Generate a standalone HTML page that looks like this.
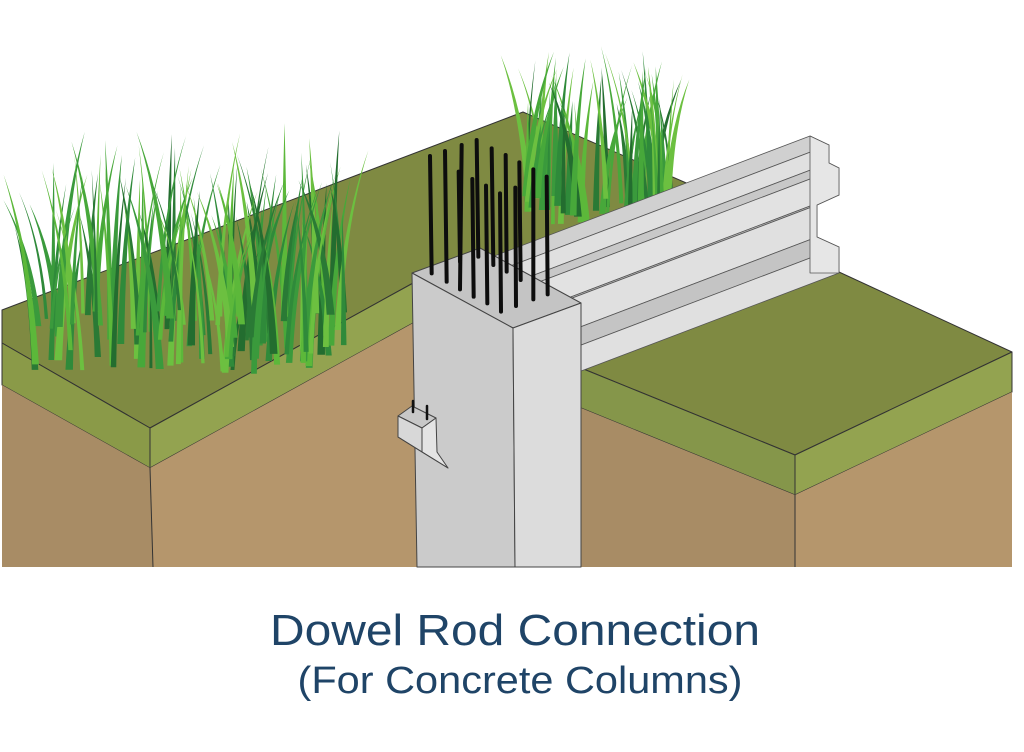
<!DOCTYPE html>
<html><head><meta charset="utf-8"><style>
html,body{margin:0;padding:0;background:#fff;width:1024px;height:752px;overflow:hidden}
svg{display:block}
</style></head><body>
<svg id="s" width="1024" height="752" viewBox="0 0 1024 752" xmlns="http://www.w3.org/2000/svg">
<g stroke="#333" stroke-width="1" stroke-linejoin="round">
<polygon points="2,310 523,112 760,215 590,330 415,282 150,428 2,343" fill="#7f8a42"/>
<polygon points="2,343 150,428 150,468 2,385" fill="#8a9a48"/>
<polygon points="150,428 415,282 415,322 150,468" fill="#93a350"/>
<polygon points="2,385 150,468 153,567 2,567" fill="#a88c65" stroke="none"/>
<polygon points="150,468 415,322 417,567 153,567" fill="#b5966c" stroke="none"/>
<line x1="150" y1="468" x2="153" y2="567"/>
<polygon points="581,368 795,455 1012,352 839,272 581,300" fill="#7f8a42"/>
<polygon points="581,368 795,455 795,495 581,408" fill="#85964a"/>
<polygon points="795,455 1012,352 1012,392 795,495" fill="#93a350"/>
<polygon points="581,408 795,495 795,567 581,567" fill="#a88c65" stroke="none"/>
<polygon points="795,495 1012,392 1012,567 795,567" fill="#b5966c" stroke="none"/>
<line x1="795" y1="495" x2="795" y2="567"/>
</g>
<g id="grass"></g>
<g id="beam" stroke="#555" stroke-width="0.8" stroke-linejoin="round"></g>
<g stroke="#444" stroke-width="1" stroke-linejoin="round">
<polygon points="412,273 480,248 581,303 513,328" fill="#c4c4c4"/>
<polygon points="412,273 513,328 515,567 417,567" fill="#cbcbcb"/>
<polygon points="513,328 581,303 581,567 515,567" fill="#dcdcdc"/>
<polygon points="398,416 412,406 436,418 422,428" fill="#c8c8c8"/>
<polygon points="398,416 422,428 422,452 398,437" fill="#d8d8d8"/>
<polygon points="422,428 436,418 437,452 448,468 422,452" fill="#e4e4e4"/>
<polygon points="398,437 422,452 448,468" fill="#9a9a9a"/>
</g>
<g stroke="#111" stroke-width="2.5" stroke-linecap="round">
<line x1="413" y1="401" x2="413" y2="412"/><line x1="427" y1="406" x2="427" y2="419"/>
</g>
<g id="rods" stroke="#0d0d0d" stroke-width="4" stroke-linecap="round"></g>
<text x="515" y="645" text-anchor="middle" font-family="Liberation Sans, sans-serif" font-size="44" fill="#1f4467" textLength="490" lengthAdjust="spacingAndGlyphs">Dowel Rod Connection</text>
<text x="520" y="693" text-anchor="middle" font-family="Liberation Sans, sans-serif" font-size="38" fill="#1f4467" textLength="445" lengthAdjust="spacingAndGlyphs">(For Concrete Columns)</text>
</svg>
<script>
var NS="http://www.w3.org/2000/svg";
function el(p,t,a){var e=document.createElementNS(NS,t);for(var k in a)e.setAttribute(k,a[k]);p.appendChild(e);return e;}
var beam=document.getElementById('beam');
var pts=[[810,136],[829,145],[829,163],[839,168],[839,195],[817,205],[817,237],[839,247],[839,273]];
var cols=['#d0d0d0','#e0e0e0','#c8c8c8','#e2e2e2','#bdbdbd','#e0e0e0','#c4c4c4','#e0e0e0'];
var s=0.38;
for(var i=0;i<pts.length-1;i++){
 var a=pts[i],b=pts[i+1];var La=a[0]-495,Lb=b[0]-495;
 el(beam,'polygon',{points:a[0]+','+a[1]+' '+b[0]+','+b[1]+' '+(b[0]-Lb)+','+(b[1]+Lb*s)+' '+(a[0]-La)+','+(a[1]+La*s),fill:cols[i]});
}
el(beam,'polygon',{points:pts.map(function(p){return p.join(',')}).join(' ')+' 810,273',fill:'#e6e6e6'});
var seed=7;function r(){seed=(seed*16807)%2147483647;return (seed-1)/2147483646;}
var g=document.getElementById('grass');
var gc=['#2f8a3a','#3a9a3c','#5cb83a','#2a7a35','#6cc040','#47a83a','#236d2f'];
function cluster(x0,x1,y0,y1,h0,h1,n,lw){
 for(var i=0;i<n;i++){
  var bx=x0+r()*(x1-x0),by=y0+r()*(y1-y0),h=h0+r()*(h1-h0);
  var lean=(r()-0.5)*lw,w=1.5+r()*2.5;
  var tx=bx+lean,ty=by-h;var cx=bx+lean*0.2,cy=by-h*0.6;
  el(g,'path',{d:'M'+(bx-w)+','+by+' Q'+(cx-w*0.6)+','+cy+' '+tx+','+ty+' Q'+(cx+w*0.6)+','+cy+' '+(bx+w)+','+by+' Z',fill:gc[Math.floor(r()*gc.length)]});
 }
}
cluster(35,345,310,375,120,200,120,70);
cluster(525,675,195,225,110,160,60,60);
var R=[[150,78,155,430],[195,63,200,455],[245,45,240,478],[290,30,295,380],[335,55,340,405],[377,75,380,425],[418,97,422,450],[236,125,240,395],[277,147,281,500],[318,167,322,520],[360,190,363,545],[406,173,408,528],[460,118,460,508],[500,140,503,493]];
var rg=document.getElementById('rods');
R.forEach(function(q){el(rg,'line',{x1:q[0]/3+380,y1:q[1]/3+130,x2:q[2]/3+380,y2:q[3]/3+130});});
</script>
</body></html>
